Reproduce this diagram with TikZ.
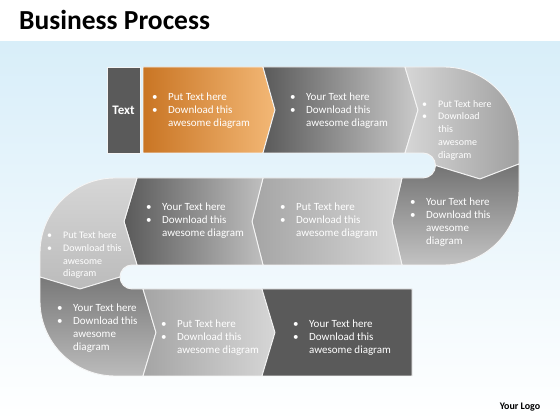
\documentclass[tikz,border=0pt]{standalone}
\usepackage{fontspec}
\setmainfont{Carlito}
\definecolor{bgblue}{HTML}{D8EEF9}
\definecolor{or1}{HTML}{C97524}
\definecolor{or2}{HTML}{F3B876}
\definecolor{gdark}{HTML}{5A5A5A}
\definecolor{gmid}{HTML}{8E8E8E}
\definecolor{glight}{HTML}{CACACA}
\definecolor{gpale}{HTML}{D6D6D6}
\newcommand{\bul}{\makebox[16pt][l]{\textbullet}}
\newcommand{\ind}{\hspace*{16pt}}
\begin{document}
\begin{tikzpicture}[x=1pt,y=1pt,
  piece/.style={draw=white!92!gray, line width=0.9pt, line join=round},
  txt/.style={anchor=west, inner sep=0pt, align=left, text=white, font=\fontsize{11}{13}\selectfont},
  smalltxt/.style={txt, font=\fontsize{10}{12.8}\selectfont}]
\useasboundingbox (0,0) rectangle (560,420);
\fill[white] (0,0) rectangle (560,420);
\shade[top color=bgblue, bottom color=white] (0,0) rectangle (560,378);

\node[anchor=base west, inner sep=0pt, font=\bfseries\fontsize{27.5}{30}\selectfont] (title) at (19,390) {Business Process};
\node[anchor=base, inner sep=0pt, font=\bfseries\fontsize{10}{12}\selectfont] (logo) at (520,10) {Your Logo};

% Row 1
\path[piece, fill=gdark] (107,267) rectangle (140,353);
\shade[piece, left color=or1, right color=or2] (143,267) -- (143,353) -- (263,353) -- (275,310) -- (263,267) -- cycle;
\shade[piece, left color=gdark, right color=glight] (263,353) -- (275,310) -- (263,267) -- (405,267) -- (418,310) -- (405,353) -- cycle;
% right U, top piece
\shade[piece, left color=gpale, right color=gmid!70!glight] (405,353) -- (444,353) arc[start angle=90, end angle=0, radius=75] -- (519,256) -- (480,241) -- (435.5,254.5) arc[start angle=0, end angle=90, radius=12.5] -- (405,267) -- (418,310) -- cycle;
% right U, bottom piece
\shade[piece, top color=gdark!85!white, bottom color=glight!90!gray] (435.5,254.5) -- (480,241) -- (519,256) -- (519,230) arc[start angle=0, end angle=-90, radius=75] -- (402,155) -- (392,198.5) -- (402,242) -- (423,242) arc[start angle=-90, end angle=0, radius=12.5] -- cycle;
% Row 2
\shade[piece, left color=gmid!80!white, right color=gpale] (402,242) -- (392,198.5) -- (402,155) -- (263,155) -- (252,198.5) -- (263,242) -- cycle;
\shade[piece, left color=gdark, right color=glight!85!gray] (263,242) -- (252,198.5) -- (263,155) -- (137,155) -- (124,198.5) -- (137,242) -- cycle;
% left U, top piece
\shade[piece, top color=gpale, bottom color=gmid!60!white] (137,242) -- (124,198.5) -- (137,155) -- (132,155) arc[start angle=90, end angle=180, radius=12] -- (80,131) -- (40,143) -- (40,167) arc[start angle=180, end angle=90, radius=75] -- cycle;
% left U, bottom piece
\shade[piece, top color=gmid!85!black, bottom color=glight!80!gray] (120,143) -- (80,131) -- (40,143) -- (40,119) arc[start angle=180, end angle=270, radius=75] -- (143,44) -- (156,87.5) -- (143,131) -- (132,131) arc[start angle=270, end angle=180, radius=12] -- cycle;
% Row 3
\shade[piece, left color=gmid!80!white, right color=gpale] (143,131) -- (156,87.5) -- (143,44) -- (262,44) -- (275,87.5) -- (262,131) -- cycle;
\path[piece, fill=gdark] (262,131) -- (275,87.5) -- (262,44) -- (412,44) -- (412,131) -- cycle;

% Texts
\node[inner sep=0pt, text=white, font=\bfseries\fontsize{13}{15}\selectfont] (t0) at (123.5,310) {Text};
\node[txt] (t1) at (152,309) {\bul Put Text here\\\bul Download this\\\ind awesome diagram};
\node[txt] (t2) at (290,309) {\bul Your Text here\\\bul Download this\\\ind awesome diagram};
\node[smalltxt] (t3) at (422,290) {\bul Put Text here\\\bul Download\\\ind this\\\ind awesome\\\ind diagram};
\node[txt] (t4) at (410,198) {\bul Your Text here\\\bul Download this\\\ind awesome\\\ind diagram};
\node[txt] (t5) at (280,199) {\bul Put Text here\\\bul Download this\\\ind awesome diagram};
\node[txt] (t6) at (146,199) {\bul Your Text here\\\bul Download this\\\ind awesome diagram};
\node[smalltxt] (t7) at (47,165) {\bul Put Text here\\\bul Download this\\\ind awesome\\\ind diagram};
\node[txt] (t8) at (57,92) {\bul Your Text here\\\bul Download this\\\ind awesome\\\ind diagram};
\node[txt] (t9) at (161,82) {\bul Put Text here\\\bul Download this\\\ind awesome diagram};
\node[txt] (t10) at (293,82) {\bul Your Text here\\\bul Download this\\\ind awesome diagram};
\end{tikzpicture}
\end{document}
